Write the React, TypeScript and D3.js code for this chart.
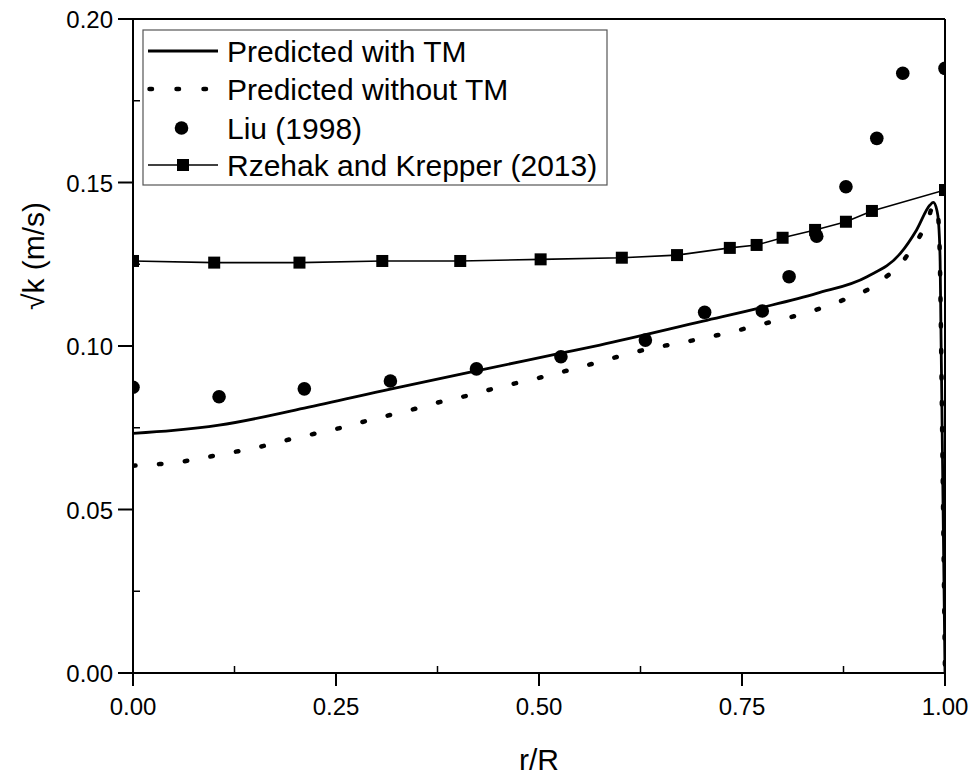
import React from "react";
import * as d3 from "d3";

// Radial position r/R and sqrt(k) values (m/s)
const withTmR = [0, 0.05, 0.106, 0.211, 0.317, 0.423, 0.527, 0.575, 0.702, 0.775, 0.842, 0.904, 0.945, 0.965, 0.9815, 0.9856, 0.99, 0.992, 0.994, 0.995, 0.996, 0.997, 0.998, 0.999, 1.0];
const withTmK = [0.0733, 0.0742, 0.0758, 0.081, 0.0868, 0.0924, 0.0978, 0.1003, 0.1076, 0.1118, 0.1161, 0.1212, 0.1283, 0.1355, 0.1431, 0.1439, 0.1415, 0.138, 0.126, 0.105, 0.085, 0.064, 0.043, 0.022, 0.0];

const withoutTmR = [0, 0.033, 0.067, 0.099, 0.131, 0.162, 0.194, 0.226, 0.258, 0.289, 0.32, 0.352, 0.383, 0.415, 0.446, 0.478, 0.509, 0.541, 0.571, 0.604, 0.636, 0.675, 0.708, 0.739, 0.77, 0.8, 0.83, 0.858, 0.887, 0.904, 0.926, 0.9446, 0.958, 0.971, 0.979, 0.9836, 0.9875, 0.991, 0.993, 0.995, 0.996, 0.997, 0.998, 0.999, 1.0];
const withoutTmK = [0.0634, 0.0639, 0.0649, 0.0664, 0.0679, 0.0695, 0.0715, 0.0733, 0.0751, 0.0772, 0.0791, 0.0811, 0.0832, 0.085, 0.0871, 0.089, 0.0908, 0.0929, 0.0949, 0.0972, 0.0992, 0.101, 0.1027, 0.1044, 0.1064, 0.1082, 0.1102, 0.1125, 0.1153, 0.1171, 0.1209, 0.1248, 0.1294, 0.1345, 0.1385, 0.1421, 0.1432, 0.1405, 0.133, 0.105, 0.085, 0.064, 0.043, 0.022, 0.0];

const liuR = [0, 0.106, 0.211, 0.317, 0.423, 0.527, 0.631, 0.704, 0.775, 0.808, 0.842, 0.878, 0.916, 0.948, 1.0];
const liuK = [0.0874, 0.0845, 0.0869, 0.0893, 0.093, 0.0967, 0.1018, 0.1103, 0.1107, 0.1212, 0.1336, 0.1487, 0.1635, 0.1834, 0.1849];

const rzehakR = [0, 0.1, 0.205, 0.307, 0.403, 0.502, 0.602, 0.67, 0.735, 0.768, 0.8, 0.84, 0.878, 0.91, 1.0];
const rzehakK = [0.126, 0.1255, 0.1255, 0.126, 0.126, 0.1265, 0.127, 0.1278, 0.13, 0.1309, 0.1331, 0.1355, 0.138, 0.1413, 0.1477];

const xMajor = [0, 0.25, 0.5, 0.75, 1.0];
const xMinor = [0.125, 0.375, 0.625, 0.875];
const yMajor = [0, 0.05, 0.1, 0.15, 0.2];
const yMinor = [0.025, 0.075, 0.125, 0.175];

const legendLabels = ["Predicted with TM", "Predicted without TM", "Liu (1998)", "Rzehak and Krepper (2013)"];

const FONT = "'Liberation Sans', Arial, sans-serif";

export default function App() {
  const left = 133, right = 945, top = 19, bottom = 673;
  const x = d3.scaleLinear().domain([0, 1]).range([left, right]);
  const y = d3.scaleLinear().domain([0, 0.2]).range([bottom, top]);

  const zip = (a: number[], b: number[]) => a.map((v, i) => [v, b[i]] as [number, number]);
  const smooth = d3.line<[number, number]>().x(d => x(d[0])).y(d => y(d[1])).curve(d3.curveMonotoneX);
  const straight = d3.line<[number, number]>().x(d => x(d[0])).y(d => y(d[1]));

  const majorLen = 13, minorLen = 7;
  const legendX = 143, legendY = 30, legendW = 464, legendH = 155;
  const rowY = [51, 89, 128, 165];
  const sampleX0 = 148, sampleX1 = 218, textX = 227;

  return (
    <svg width={976} height={780} style={{ position: "absolute", left: 0, top: 0, background: "#fff" }} fontFamily={FONT}>
      <defs>
        <clipPath id="plotClip">
          <rect x={left} y={top} width={right - left} height={bottom - top} />
        </clipPath>
      </defs>
      <rect x={0} y={0} width={976} height={780} fill="#fff" />

      <g clipPath="url(#plotClip)">
        <path d={straight(zip(rzehakR, rzehakK)) || ""} fill="none" stroke="#000" strokeWidth={1.6} />
        <path d={smooth(zip(withoutTmR, withoutTmK)) || ""} fill="none" stroke="#000" strokeWidth={4.5}
          strokeDasharray="2.5 23.5" strokeLinecap="round" />
        <path d={smooth(zip(withTmR, withTmK)) || ""} fill="none" stroke="#000" strokeWidth={2.8} />
        {rzehakR.map((r, i) => (
          <rect key={"s" + i} x={x(r) - 6} y={y(rzehakK[i]) - 6} width={12} height={12} fill="#000" />
        ))}
        {liuR.map((r, i) => (
          <circle key={"c" + i} cx={x(r)} cy={y(liuK[i])} r={6.8} fill="#000" />
        ))}
      </g>

      {/* frame */}
      <line x1={left} x2={right} y1={top} y2={top} stroke="#000" strokeWidth={2} />
      <line x1={right} x2={right} y1={top} y2={bottom} stroke="#000" strokeWidth={2} />
      <line x1={left} x2={left} y1={top} y2={bottom + 1} stroke="#000" strokeWidth={2} />
      <line x1={left - 1} x2={right + 1} y1={bottom} y2={bottom} stroke="#000" strokeWidth={2} />

      {/* x axis ticks */}
      {xMajor.map(v => (
        <g key={"xm" + v}>
          <line x1={x(v)} x2={x(v)} y1={bottom} y2={bottom + majorLen} stroke="#000" strokeWidth={2} />
          <text x={x(v)} y={715} fontSize={24} textAnchor="middle" fill="#000">{v.toFixed(2)}</text>
        </g>
      ))}
      {xMinor.map(v => (
        <line key={"xn" + v} x1={x(v)} x2={x(v)} y1={bottom} y2={bottom - minorLen} stroke="#000" strokeWidth={1.5} />
      ))}

      {/* y axis ticks */}
      {yMajor.map(v => (
        <g key={"ym" + v}>
          <line x1={left - 15} x2={left} y1={y(v)} y2={y(v)} stroke="#000" strokeWidth={2} />
          <text x={113} y={y(v) + 9} fontSize={24} textAnchor="end" fill="#000">{v.toFixed(2)}</text>
        </g>
      ))}
      {yMinor.map(v => (
        <line key={"yn" + v} x1={left} x2={left + minorLen} y1={y(v)} y2={y(v)} stroke="#000" strokeWidth={1.5} />
      ))}

      {/* axis titles */}
      <text x={539} y={770} fontSize={30} textAnchor="middle" fill="#000">r/R</text>
      <text transform="translate(44,256) rotate(-90)" fontSize={30} textAnchor="middle" fill="#000">√k (m/s)</text>

      {/* legend */}
      <rect x={legendX} y={legendY} width={legendW} height={legendH} fill="#fff" stroke="#555" strokeWidth={1.2} />
      <line x1={sampleX0} x2={sampleX1} y1={rowY[0]} y2={rowY[0]} stroke="#000" strokeWidth={2.8} />
      <line x1={sampleX0 + 1.5} x2={sampleX1} y1={rowY[1]} y2={rowY[1]} stroke="#000" strokeWidth={4.5}
        strokeDasharray="2.5 24.5" strokeLinecap="round" />
      <circle cx={(sampleX0 + sampleX1) / 2 - 1.5} cy={rowY[2]} r={6.8} fill="#000" />
      <line x1={sampleX0} x2={sampleX1} y1={rowY[3]} y2={rowY[3]} stroke="#000" strokeWidth={1.6} />
      <rect x={(sampleX0 + sampleX1) / 2 - 6} y={rowY[3] - 6} width={12} height={12} fill="#000" />
      {legendLabels.map((t, i) => (
        <text key={t} x={textX} y={rowY[i] + 11} fontSize={30} fill="#000">{t}</text>
      ))}
    </svg>
  );
}
